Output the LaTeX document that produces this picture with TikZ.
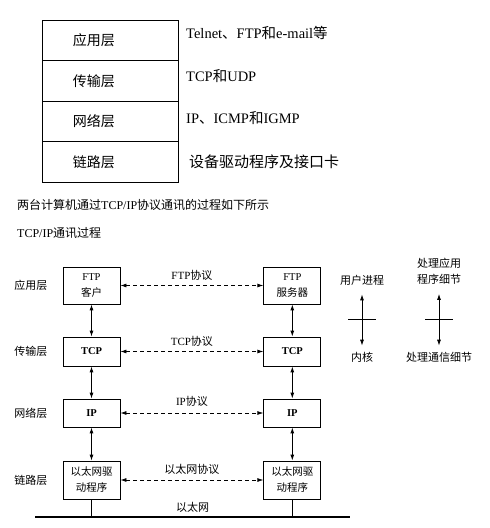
\documentclass[tikz,border=0pt]{standalone}
\usepackage{fontspec}
\setmainfont{Liberation Serif}
\newfontfamily\zh{Noto Sans CJK SC}
\usetikzlibrary{arrows.meta}
\usetikzlibrary{positioning}
\tikzset{stackrow/.style = {draw, line width=0.8pt, minimum width=136pt, minimum height=40.5pt, inner sep=0pt},
         rowtext/.style = {inner sep=0pt, font=\zh\fontsize{14}{16}\selectfont},
         desctext/.style = {anchor=west, inner sep=0pt, font=\fontsize{14.5}{16}\selectfont},
         proto/.style = {draw, line width=0.8pt, minimum width=57pt, inner sep=1pt, align=center,
                         font=\fontsize{10.5}{16}\selectfont},
         small/.style = {inner sep=0pt, align=center, font=\zh\fontsize{11}{16}\selectfont},
         peer/.style = {<->, line width=0.8pt, dash pattern=on 4pt off 3pt}}

\begin{document}
\begin{tikzpicture}[x=1pt, y=-1pt, >={Latex[length=6pt, width=4pt]}]
    \useasboundingbox (0,0) rectangle (490,528);

    % four layers
    \foreach \i/\layer in {0/应用层, 1/传输层, 2/网络层, 3/链路层} {
      \node [stackrow] (row\i) at (110, 40.25 + \i*40.5) {};
      \node [rowtext, right=31pt of row\i.west] {\layer};
    }
    \node [desctext] (desc0) at (186, 33) {Telnet{\zh 、}FTP{\zh 和}e-mail{\zh 等}};
    \node [desctext] (desc1) at (186, 76) {TCP{\zh 和}UDP};
    \node [desctext] (desc2) at (186, 118) {IP{\zh 、}ICMP{\zh 和}IGMP};
    \node [desctext, font=\zh\fontsize{15}{16}\selectfont] (desc3) at (189, 162) {设备驱动程序及接口卡};

    \node [anchor=west, inner sep=0pt, font=\fontsize{12}{14}\selectfont] (intro) at (17, 205)
      {{\zh 两台计算机通过}TCP/IP{\zh 协议通讯的过程如下所示}};
    \node [anchor=west, inner sep=0pt, font=\fontsize{12}{14}\selectfont] (title) at (17, 233)
      {TCP/IP{\zh 通讯过程}};

    % client and server stacks
    \node [proto, minimum height=37pt] (ftpc) at (91.5, 285.5) {FTP\\{\zh 客户}};
    \node [proto, minimum height=29pt] (tcpc) at (91.5, 351.5) {\textbf{TCP}};
    \node [proto, minimum height=28pt] (ipc) at (91.5, 413) {\textbf{IP}};
    \node [proto, minimum height=38pt, font=\zh\fontsize{10.5}{16}\selectfont] (ethc) at (91.5, 480) {以太网驱\\动程序};

    \node [proto, minimum height=37pt, right=143pt of ftpc] (ftps) {FTP\\{\zh 服务器}};
    \node [proto, minimum height=29pt, right=143pt of tcpc] (tcps) {\textbf{TCP}};
    \node [proto, minimum height=28pt, right=143pt of ipc] (ips) {\textbf{IP}};
    \node [proto, minimum height=38pt, right=143pt of ethc, font=\zh\fontsize{10.5}{16}\selectfont] (eths) {以太网驱\\动程序};

    \node [small, left=15pt of ftpc] {应用层};
    \node [small, left=15pt of tcpc] {传输层};
    \node [small, left=15pt of ipc] {网络层};
    \node [small, left=15pt of ethc] {链路层};

    \foreach \a/\b in {ftpc/tcpc, tcpc/ipc, ipc/ethc, ftps/tcps, tcps/ips, ips/eths} {
      \draw [<->, line width=0.9pt] (\a) -- (\b);
    }

    \draw [peer] (ftpc) -- (ftps) node [midway, above=5pt, inner sep=0pt, font=\fontsize{11}{14}\selectfont] {FTP{\zh 协议}};
    \draw [peer] (tcpc) -- (tcps) node [midway, above=5pt, inner sep=0pt, font=\fontsize{11}{14}\selectfont] {TCP{\zh 协议}};
    \draw [peer] (ipc) -- (ips) node [midway, above=6pt, inner sep=0pt, font=\fontsize{11}{14}\selectfont] {IP{\zh 协议}};
    \draw [peer] (ethc) -- (eths) node [midway, above=5pt, inner sep=0pt, font=\zh\fontsize{11}{14}\selectfont] {以太网协议};

    % ethernet
    \coordinate (busL) at (35, 517);
    \coordinate (busR) at (350, 517);
    \draw [line width=1.6pt] (busL) -- (busR) node [midway, above=4pt, small] {以太网};
    \draw [line width=0.8pt] (ethc.south) -- (ethc.south |- busL);
    \draw [line width=0.8pt] (eths.south) -- (eths.south |- busL);

    % legend
    \node [small] (user) at (362, 280) {用户进程};
    \node [small] (kernel) at (362, 357) {内核};
    \draw [<->, line width=0.9pt] ([yshift=-9pt]user.south) -- ([yshift=6pt]kernel.north);
    \coordinate (ucross) at (362, 319);
    \draw [line width=0.8pt] ([xshift=-14pt]ucross) -- ([xshift=14pt]ucross);

    \node [small] (app) at (439, 271.5) {处理应用\\程序细节};
    \node [small] (comm) at (439, 357) {处理通信细节};
    \draw [<->, line width=0.9pt] ([yshift=-9pt]app.south) -- ([yshift=6pt]comm.north);
    \coordinate (acoss) at (439, 319);
    \draw [line width=0.8pt] ([xshift=-14pt]acoss) -- ([xshift=14pt]acoss);
  \end{tikzpicture}
\end{document}
